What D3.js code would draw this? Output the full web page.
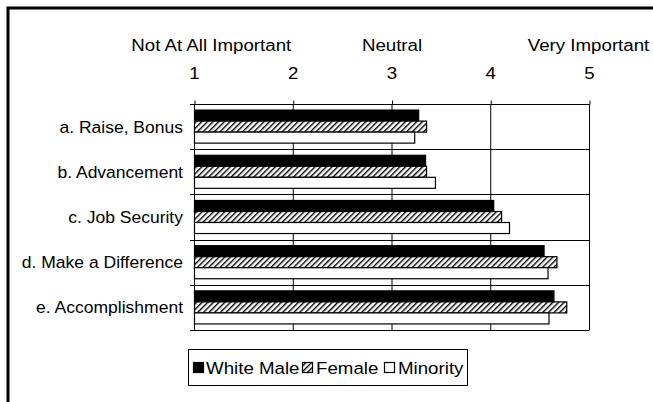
<!DOCTYPE html>
<html>
<head>
<meta charset="utf-8">
<script src="https://cdn.jsdelivr.net/npm/d3@7"></script>
<style>
  body { margin: 0; background: #fff; }
  text { font-family: "Liberation Sans", Arial, sans-serif; fill: #000; }
</style>
</head>
<body>
<div id="chart-container"></div>
<script>
/**************************************************
 * Data
 **************************************************/
const categories = ["a. Raise, Bonus", "b. Advancement", "c. Job Security", "d. Make a Difference", "e. Accomplishment"];
const seriesNames = ["White Male", "Female", "Minority"];
const whiteMale = [3.27, 3.34, 4.03, 4.54, 4.64];
const female = [3.35, 3.35, 4.11, 4.67, 4.77];
const minority = [3.23, 3.44, 4.19, 4.58, 4.59];
const tickValues = [1, 2, 3, 4, 5];
const scaleLabels = [
  { value: 1.17, text: "Not At All Important" },
  { value: 3, text: "Neutral" },
  { value: 4.99, text: "Very Important" }
];

const seriesValues = [whiteMale, female, minority];

/**************************************************
 * Rendering
 **************************************************/
const width = 653, height = 402;
const svg = d3.select("#chart-container")
  .append("svg")
  .attr("width", width)
  .attr("height", height);

const defs = svg.append("defs");
const hatch = defs.append("pattern")
  .attr("id", "hatch")
  .attr("patternUnits", "userSpaceOnUse")
  .attr("width", 4)
  .attr("height", 4)
  .attr("patternTransform", "rotate(45)");
hatch.append("rect").attr("width", 4).attr("height", 4).attr("fill", "#fff");
hatch.append("line")
  .attr("x1", 0).attr("y1", 0).attr("x2", 0).attr("y2", 4)
  .attr("stroke", "#000").attr("stroke-width", 2.8);

const fills = ["#000", "url(#hatch)", "#fff"];

// outer frame (only top and left visible)
svg.append("path")
  .attr("d", `M8,${height} L8,8 L${width},8`)
  .attr("fill", "none")
  .attr("stroke", "#000")
  .attr("stroke-width", 3);

const x = d3.scaleLinear().domain([1, 5]).range([194.5, 589.5]);
const y = d3.scaleBand().domain(categories).range([104, 330]).padding(0);
const ySub = d3.scaleBand().domain(seriesNames).range([0, y.bandwidth()]).paddingOuter(0.55).paddingInner(0);

const fontSize = 17;
const stretch = 1.1;
const catStretch = 1.03;

// vertical grid
svg.append("g")
  .selectAll("line")
  .data(tickValues.slice(1))
  .join("line")
  .attr("x1", d => x(d)).attr("x2", d => x(d))
  .attr("y1", 104).attr("y2", 330)
  .attr("stroke", "#000").attr("stroke-width", 1);

// horizontal grid at band boundaries, with little ticks to the left
const bounds = categories.map(c => y(c)).concat([y.range()[1]]);
svg.append("g")
  .selectAll("line")
  .data(bounds)
  .join("line")
  .attr("x1", 190).attr("x2", x(5))
  .attr("y1", d => Math.round(d) + 0.5).attr("y2", d => Math.round(d) + 0.5)
  .attr("stroke", "#000").attr("stroke-width", 1);

// top axis
const axis = svg.append("g")
  .attr("transform", "translate(0,104.5)")
  .call(d3.axisTop(x).tickValues(tickValues).tickSize(4).tickPadding(0).tickFormat(""));
axis.select(".domain").remove();
axis.selectAll("line").attr("stroke", "#000");

// tick numbers
svg.append("g")
  .selectAll("text")
  .data(tickValues)
  .join("text")
  .attr("transform", d => `translate(${x(d)},79) scale(${stretch},1)`)
  .attr("text-anchor", "middle")
  .attr("font-size", fontSize)
  .text(d => d);

// scale descriptions
svg.append("g")
  .selectAll("text")
  .data(scaleLabels)
  .join("text")
  .attr("transform", d => `translate(${x(d.value)},51) scale(${stretch},1)`)
  .attr("text-anchor", "middle")
  .attr("font-size", fontSize)
  .text(d => d.text);

// category labels
svg.append("g")
  .selectAll("text")
  .data(categories)
  .join("text")
  .attr("transform", d => `translate(183,${y(d) + y.bandwidth() / 2 + 6}) scale(${catStretch},1)`)
  .attr("text-anchor", "end")
  .attr("font-size", fontSize)
  .text(d => d);

// bars
seriesNames.forEach((s, si) => {
  svg.append("g")
    .selectAll("rect")
    .data(categories)
    .join("rect")
    .attr("x", x(1))
    .attr("y", c => y(c) + ySub(s))
    .attr("width", (c, i) => x(seriesValues[si][i]) - x(1))
    .attr("height", ySub.bandwidth())
    .attr("fill", fills[si])
    .attr("stroke", "#000")
    .attr("stroke-width", 1.2);
});

// left axis line
svg.append("line")
  .attr("x1", x(1)).attr("x2", x(1))
  .attr("y1", 104).attr("y2", 330)
  .attr("stroke", "#000");

// legend
const legend = svg.append("g");
legend.append("rect")
  .attr("x", 188.5).attr("y", 349.5)
  .attr("width", 279).attr("height", 36)
  .attr("fill", "#fff").attr("stroke", "#000");

const legendItems = [
  { x: 193, tx: 206 },
  { x: 302, tx: 316 },
  { x: 384, tx: 398 }
];
seriesNames.forEach((s, i) => {
  legend.append("rect")
    .attr("x", legendItems[i].x + 0.5).attr("y", 362.5)
    .attr("width", 10).attr("height", 10)
    .attr("fill", fills[i]).attr("stroke", "#000").attr("stroke-width", 1.2);
  legend.append("text")
    .attr("transform", `translate(${legendItems[i].tx},374) scale(${stretch},1)`)
    .attr("font-size", fontSize)
    .text(s);
});
</script>
</body>
</html>
